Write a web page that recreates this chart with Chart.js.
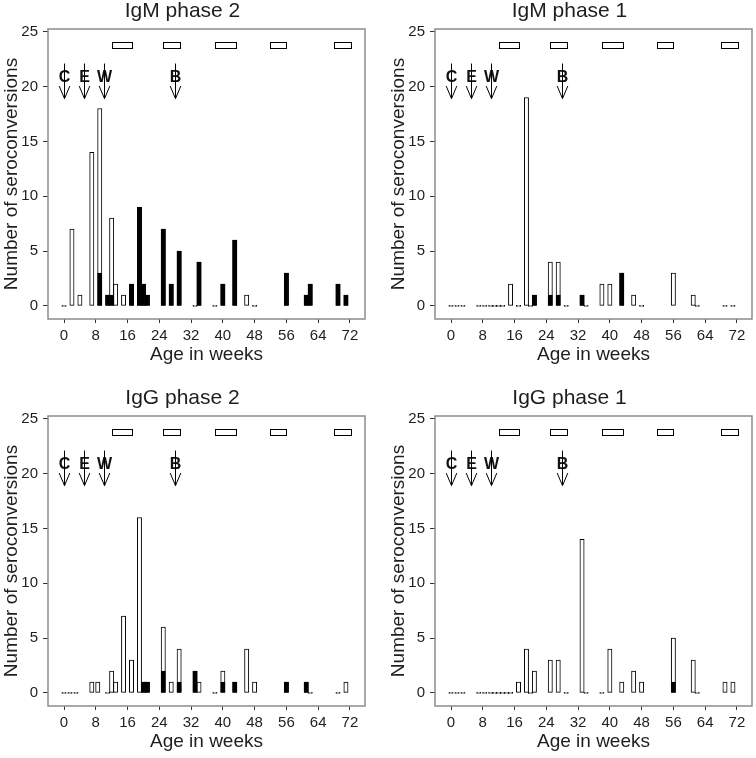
<!DOCTYPE html>
<html>
<head>
<meta charset="utf-8">
<script src="https://cdn.jsdelivr.net/npm/chart.js@4.4.1/dist/chart.umd.min.js"></script>
<style>
  body { margin: 0; background: #fff; }
  .panel { position: absolute; width: 369px; height: 371px; overflow: hidden; }
</style>
</head>
<body>
<div class="panel" style="left:0;top:0"><canvas id="igm2" width="369" height="386"></canvas></div>
<div class="panel" style="left:387px;top:0"><canvas id="igm1" width="369" height="386"></canvas></div>
<div class="panel" style="left:0;top:387px"><canvas id="igg2" width="369" height="386"></canvas></div>
<div class="panel" style="left:387px;top:387px"><canvas id="igg1" width="369" height="386"></canvas></div>
<script>
// --- shared axis ticks and annotations ---
const xTicks = [0, 8, 16, 24, 32, 40, 48, 56, 64, 72];
const yTicks = [0, 5, 10, 15, 20, 25];
const arrowWeeks = [0, 5, 10, 28];
const arrowLabels = ['C', 'E', 'W', 'B'];
const periodStart = [12, 25, 38, 52, 68];
const periodEnd = [17.2, 29.2, 43.3, 56, 72.2];

// --- IgM phase 2 ---
const weeksIgM2 = [0, 2, 4, 7, 9, 11, 12, 13, 15, 17, 19, 20, 21, 25, 27, 29, 33, 34, 38, 40, 43, 46, 48, 56, 61, 62, 69, 71];
const totalIgM2 = [0, 7, 1, 14, 18, 1, 8, 2, 1, 2, 9, 2, 1, 7, 2, 5, 0, 4, 0, 2, 6, 1, 0, 3, 1, 2, 2, 1];
const blackIgM2 = [0, 0, 0, 0, 3, 1, 1, 0, 0, 2, 9, 2, 1, 7, 2, 5, 0, 4, 0, 2, 6, 0, 0, 3, 1, 2, 2, 1];

// --- IgM phase 1 ---
const weeksIgM1 = [0, 1.5, 3, 7, 8.5, 10, 11, 12, 13, 15, 17, 19, 20, 21, 25, 27, 29, 33, 34, 38, 40, 43, 46, 48, 56, 61, 62, 69, 71];
const totalIgM1 = [0, 0, 0, 0, 0, 0, 0, 0, 0, 2, 0, 19, 0, 1, 4, 4, 0, 1, 0, 2, 2, 3, 1, 0, 3, 1, 0, 0, 0];
const blackIgM1 = [0, 0, 0, 0, 0, 0, 0, 0, 0, 0, 0, 0, 0, 1, 1, 1, 0, 1, 0, 0, 0, 3, 0, 0, 0, 0, 0, 0, 0];

// --- IgG phase 2 ---
const weeksIgG2 = [0, 1.5, 3, 7, 8.5, 11, 12, 13, 15, 17, 19, 20, 21, 25, 27, 29, 33, 34, 38, 40, 43, 46, 48, 56, 61, 62, 69, 71];
const totalIgG2 = [0, 0, 0, 1, 1, 0, 2, 1, 7, 3, 16, 1, 1, 6, 1, 4, 2, 1, 0, 2, 1, 4, 1, 1, 1, 0, 0, 1];
const blackIgG2 = [0, 0, 0, 0, 0, 0, 0, 0, 0, 0, 0, 1, 1, 2, 0, 1, 2, 0, 0, 1, 1, 0, 0, 1, 1, 0, 0, 0];

// --- IgG phase 1 ---
const weeksIgG1 = [0, 1.5, 3, 7, 8.5, 10, 11, 12, 13, 14, 15, 17, 19, 20, 21, 25, 27, 29, 33, 34, 38, 40, 43, 46, 48, 56, 61, 62, 69, 71];
const totalIgG1 = [0, 0, 0, 0, 0, 0, 0, 0, 0, 0, 0, 1, 4, 0, 2, 3, 3, 0, 14, 0, 0, 4, 1, 2, 1, 5, 3, 0, 1, 1];
const blackIgG1 = [0, 0, 0, 0, 0, 0, 0, 0, 0, 0, 0, 0, 0, 0, 0, 0, 0, 0, 0, 0, 0, 0, 0, 0, 0, 1, 0, 0, 0, 0];

const FONT = "'Liberation Sans', Arial, sans-serif";
const TEXT = '#1e1e1e';

// Frame, season boxes and the C/E/W/B arrows, placed through the chart scales
const markersPlugin = {
    id: 'markers',
    afterDatasetsDraw(chart) {
        const { ctx, chartArea: a, scales: { x, y } } = chart;
        ctx.save();

        // plot frame
        ctx.strokeStyle = '#8c8c8c';
        ctx.lineWidth = 1.5;
        ctx.strokeRect(a.left, a.top, a.right - a.left, a.bottom - a.top);

        // season boxes along the top
        ctx.strokeStyle = '#000';
        ctx.lineWidth = 1;
        ctx.fillStyle = '#fff';
        const yTop = Math.round(y.getPixelForValue(24.1)) + 0.5;
        const yBot = Math.round(y.getPixelForValue(23.5)) + 0.5;
        periodStart.forEach((s, i) => {
            const x0 = Math.round(x.getPixelForValue(s)) + 0.5;
            const x1 = Math.round(x.getPixelForValue(periodEnd[i])) + 0.5;
            ctx.fillRect(x0, yTop, x1 - x0, yBot - yTop);
            ctx.strokeRect(x0, yTop, x1 - x0, yBot - yTop);
        });

        // arrows with letters
        const top = y.getPixelForValue(22.1);
        const tip = y.getPixelForValue(18.9);
        const head = y.getPixelForValue(20.05);
        ctx.font = 'bold 16px ' + FONT;
        ctx.textAlign = 'center';
        ctx.textBaseline = 'middle';
        arrowWeeks.forEach((w, i) => {
            const px = Math.round(x.getPixelForValue(w)) + 0.5;
            ctx.fillStyle = '#111';
            ctx.fillText(arrowLabels[i], px, y.getPixelForValue(20.85));
            ctx.beginPath();
            ctx.moveTo(px, top);
            ctx.lineTo(px, tip);
            ctx.moveTo(px - 5.3, head);
            ctx.lineTo(px, tip);
            ctx.lineTo(px + 5.3, head);
            ctx.stroke();
        });
        ctx.restore();
    }
};

function makePanel(id, title, weeks, totals, blacks) {
    const barStyle = { borderColor: '#000', borderWidth: 1, borderSkipped: false, barThickness: 4.3, grouped: false };
    new Chart(document.getElementById(id), {
        type: 'bar',
        data: {
            datasets: [
                // black part drawn on top of the open bar
                { ...barStyle, label: 'black', backgroundColor: '#000',
                  data: weeks.map((w, i) => ({ x: w, y: blacks[i] })) },
                // zero counts show as a short dash
                { ...barStyle, label: 'total', backgroundColor: '#fff', minBarLength: 1,
                  data: weeks.map((w, i) => ({ x: w, y: totals[i] })) }
            ]
        },
        options: {
            responsive: false,
            animation: false,
            devicePixelRatio: 1,
            layout: { padding: { left: 0, right: 4, top: 0, bottom: 0 } },
            plugins: {
                legend: { display: false },
                tooltip: { enabled: false },
                title: {
                    display: true, text: title, color: TEXT,
                    font: { family: FONT, size: 21, weight: 'normal', lineHeight: 1 },
                    padding: { top: 1, bottom: 7 }
                }
            },
            scales: {
                x: {
                    type: 'linear', min: -4.03, max: 75.8, offset: false,
                    grid: { offset: false, drawOnChartArea: false, tickLength: 4, color: '#333' },
                    border: { display: false },
                    ticks: { color: TEXT, font: { family: FONT, size: 15 }, padding: 4, maxRotation: 0, autoSkip: false },
                    afterBuildTicks: s => { s.ticks = xTicks.map(v => ({ value: v })); },
                    afterFit: s => { s.height = 67; },
                    title: {
                        display: true, text: 'Age in weeks', color: TEXT,
                        font: { family: FONT, size: 19 }, padding: { top: 0, bottom: 19.6 }
                    }
                },
                y: {
                    min: -1.19, max: 25.25,
                    grid: { drawOnChartArea: false, tickLength: 5, color: '#333' },
                    border: { display: false },
                    ticks: { color: TEXT, font: { family: FONT, size: 15 }, padding: 5 },
                    afterBuildTicks: s => { s.ticks = yTicks.map(v => ({ value: v })); },
                    afterFit: s => { s.width = 48; },
                    title: {
                        display: true, text: 'Number of seroconversions', color: TEXT,
                        font: { family: FONT, size: 19 }, padding: { top: 0, bottom: 0 }
                    }
                }
            }
        },
        plugins: [markersPlugin]
    });
}

makePanel('igm2', 'IgM phase 2', weeksIgM2, totalIgM2, blackIgM2);
makePanel('igm1', 'IgM phase 1', weeksIgM1, totalIgM1, blackIgM1);
makePanel('igg2', 'IgG phase 2', weeksIgG2, totalIgG2, blackIgG2);
makePanel('igg1', 'IgG phase 1', weeksIgG1, totalIgG1, blackIgG1);
</script>
</body>
</html>
